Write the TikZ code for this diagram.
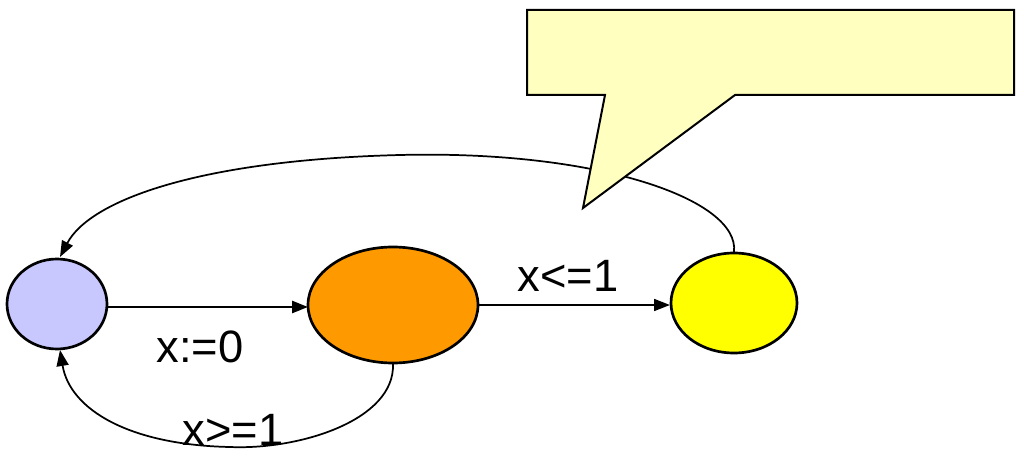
\documentclass[tikz,border=0pt]{standalone}
\usepackage{fontspec}
\setmainfont{Liberation Sans}
\usetikzlibrary{arrows.meta}
\definecolor{lav}{HTML}{C8C8FF}
\definecolor{org}{HTML}{FF9900}
\definecolor{yel}{HTML}{FFFF00}
\definecolor{call}{HTML}{FFFFC0}
\begin{document}
\begin{tikzpicture}[x=0.75pt,y=-0.75pt,
  st/.style={draw=black,line width=2pt,ellipse},
  lab/.style={font=\fontsize{34}{36}\selectfont,inner sep=0pt},
  arr/.style={-{Triangle[length=12pt,width=9pt]},line width=1.3pt}]
\useasboundingbox (0,0) rectangle (1024,456);
\fill[lav,draw=black,line width=2pt] (57,304) ellipse [x radius=50,y radius=45];
\fill[org,draw=black,line width=2pt] (393,305) ellipse [x radius=85,y radius=58];
\fill[yel,draw=black,line width=2pt] (734,303) ellipse [x radius=63,y radius=50];
\coordinate (aR) at (107,307); \coordinate (bL) at (308,307);
\coordinate (bR) at (478,305); \coordinate (cL) at (670,305);
\coordinate (cT) at (734,252); \coordinate (aT) at (60,257);
\coordinate (bB) at (393,364); \coordinate (aB) at (60,350);
\draw[arr,line width=2pt] (aR) -- (bL);
\draw[arr] (bR) -- (cL);
\draw[arr] (cT) .. controls (740,200) and (600,150) .. (400,155) .. controls (200,160) and (90,200) .. (aT);
\draw[arr] (bB) .. controls (395,420) and (300,450) .. (230,447) .. controls (130,445) and (70,410) .. (aB);
\node[lab] (l1) at (200,347) {x:=0};
\node[lab] (l2) at (568,276) {x<=1};
\node[lab] (l3) at (233,430) {x>=1};
\filldraw[fill=call,draw=black,line width=1.5pt] (527,10) -- (1014,10) -- (1014,95) -- (735,95) -- (583,208) -- (605,95) -- (527,95) -- cycle;
\end{tikzpicture}
\end{document}
